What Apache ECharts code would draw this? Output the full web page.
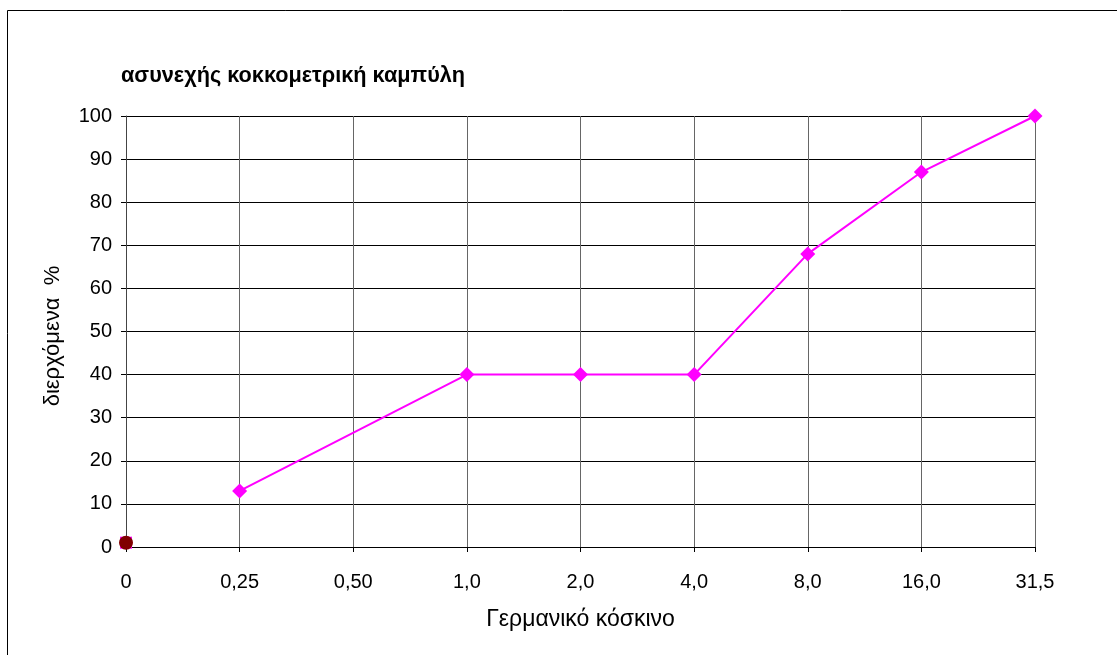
<!DOCTYPE html>
<html>
<head>
<meta charset="utf-8">
<script src="https://cdn.jsdelivr.net/npm/echarts@6/dist/echarts.min.js"></script>
<style>html,body{margin:0;padding:0;background:#fff}#c{width:1117px;height:655px}</style>
</head>
<body>
<div id="c"></div>
<script>
var categories = ['0', '0,25', '0,50', '1,0', '2,0', '4,0', '8,0', '16,0', '31,5'];
var passing = [null, 13, null, 40, 40, 40, 68, 87, 100];
var firstPoint = [1, null, null, null, null, null, null, null, null];
var yTicks = [0, 10, 20, 30, 40, 50, 60, 70, 80, 90, 100];

var chart = echarts.init(document.getElementById('c'), null, {renderer: 'canvas'});
var font = 'Liberation Sans, Arial, sans-serif';
chart.setOption({
  animation: false,
  backgroundColor: '#fff',
  title: {
    text: 'ασυνεχής κοκκομετρική καμπύλη',
    left: 116, top: 60,
    textStyle: {fontFamily: font, fontSize: 21.7, fontWeight: 'bold', color: '#000'}
  },
  graphic: [{
    type: 'rect', shape: {x: 7.5, y: 10.5, width: 1300, height: 800},
    style: {fill: 'none', stroke: '#000', lineWidth: 1}, silent: true
  }],
  grid: {left: 126, right: 82, top: 116, bottom: 108},
  xAxis: {
    type: 'category', data: categories, boundaryGap: false,
    name: 'Γερμανικό κόσκινο', nameLocation: 'middle', nameGap: 61,
    nameTextStyle: {fontFamily: font, fontSize: 23, color: '#000'},
    axisLine: {lineStyle: {color: '#000', width: 1}},
    axisTick: {show: true, length: 5, alignWithLabel: true, lineStyle: {color: '#000'}},
    axisLabel: {fontFamily: font, fontSize: 20, color: '#000', margin: 25, interval: 0},
    splitLine: {show: true, lineStyle: {color: '#666', width: 1}}
  },
  yAxis: {
    type: 'value', min: yTicks[0], max: yTicks[yTicks.length - 1], interval: 10,
    name: 'διερχόμενα  %', nameLocation: 'middle', nameGap: 62, nameRotate: 90,
    nameTextStyle: {fontFamily: font, fontSize: 22, color: '#000', padding: [0, 9, 0, 0]},
    axisLine: {show: true, lineStyle: {color: '#444', width: 1}},
    axisTick: {show: true, length: 5, lineStyle: {color: '#000'}},
    axisLabel: {fontFamily: font, fontSize: 20, color: '#000', margin: 14},
    splitLine: {show: true, lineStyle: {color: '#000', width: 1}}
  },
  series: [
    {
      type: 'line', data: passing, connectNulls: true,
      symbol: 'diamond', symbolSize: 15,
      itemStyle: {color: '#ff00ff'},
      lineStyle: {color: '#ff00ff', width: 2}
    },
    {
      type: 'line', data: firstPoint,
      symbol: 'rect', symbolSize: 12,
      itemStyle: {color: '#ff00ff'}, lineStyle: {width: 0}
    },
    {
      type: 'line', data: firstPoint,
      symbol: 'circle', symbolSize: 14,
      itemStyle: {color: '#800000'}, lineStyle: {width: 0}
    }
  ]
});
</script>
</body>
</html>
